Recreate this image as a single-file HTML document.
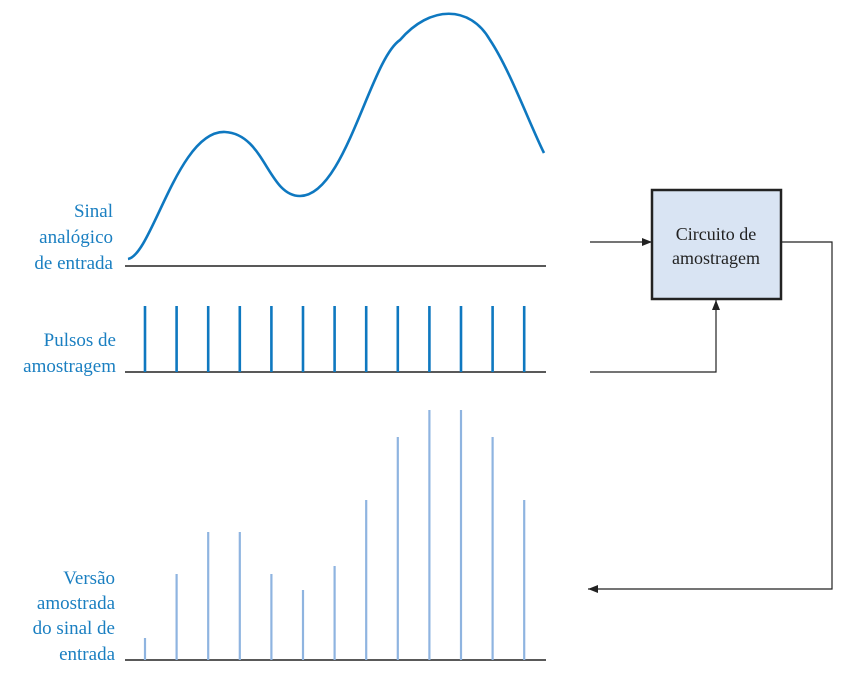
<!DOCTYPE html>
<html><head><meta charset="utf-8"><style>
html,body{margin:0;padding:0;background:#fff;}
svg{display:block;}
.lbl{font-family:"Liberation Serif",serif;font-size:19px;fill:#1a7fc1;}
.box{font-family:"Liberation Serif",serif;font-size:18px;fill:#222;}
</style></head><body>
<svg id="c" width="856" height="680" viewBox="0 0 856 680" xmlns="http://www.w3.org/2000/svg">
<defs><marker id="ar" markerWidth="10" markerHeight="8" refX="10" refY="4" orient="auto" markerUnits="userSpaceOnUse"><path d="M0,0 L10,4 L0,8 z" fill="#222"/></marker></defs>
<g>
<text class="lbl" x="113" y="217" text-anchor="end">Sinal</text>
<text class="lbl" x="113" y="243" text-anchor="end">analógico</text>
<text class="lbl" x="113" y="269" text-anchor="end">de entrada</text>
<line x1="125" y1="266" x2="546" y2="266" stroke="#222" stroke-width="1.5"/>
<path d="M128,259 C152,255 178,130 225,132 C265,134 268,196 300,196 C345,196 370,60 400,40 C430,5 470,5 490,40 C510,70 530,125 544,153" fill="none" stroke="#0e78c0" stroke-width="2.6"/>
</g>
<g id="pulses">
<text class="lbl" x="116" y="346" text-anchor="end">Pulsos de</text>
<text class="lbl" x="116" y="372" text-anchor="end">amostragem</text>
<line x1="125" y1="372" x2="546" y2="372" stroke="#222" stroke-width="1.5"/>
</g>
<g id="samples">
<text class="lbl" x="115" y="584" text-anchor="end">Versão</text>
<text class="lbl" x="115" y="609" text-anchor="end">amostrada</text>
<text class="lbl" x="115" y="634" text-anchor="end">do sinal de</text>
<text class="lbl" x="115" y="660" text-anchor="end">entrada</text>
<line x1="125" y1="660" x2="546" y2="660" stroke="#222" stroke-width="1.5"/>
</g>
<g>
<rect x="652" y="190" width="129" height="109" fill="#d9e4f3" stroke="#222" stroke-width="2.5"/>
<text class="box" x="716" y="240" text-anchor="middle">Circuito de</text>
<text class="box" x="716" y="264" text-anchor="middle">amostragem</text>
<line x1="590" y1="242" x2="652" y2="242" stroke="#222" stroke-width="1.2" marker-end="url(#ar)"/>
<polyline points="590,372 716,372 716,300" fill="none" stroke="#222" stroke-width="1.2" marker-end="url(#ar)"/>
<polyline points="781,242 832,242 832,589 588,589" fill="none" stroke="#222" stroke-width="1.2" marker-end="url(#ar)"/>
</g>
</svg>
<script>
const sampleIndex = [0,1,2,3,4,5,6,7,8,9,10,11,12];
const sampleValues = [22,86,128,128,86,70,94,160,223,250,250,223,160];
const pulseHeight = 66;
const svgNS = "http://www.w3.org/2000/svg";
function xPos(i){ return 145 + i*31.6; }
function ySample(v){ return 660 - v; }
const pg = document.getElementById('pulses');
const sg = document.getElementById('samples');
sampleIndex.forEach((i,k)=>{
  const p = document.createElementNS(svgNS,'line');
  p.setAttribute('x1',xPos(i)); p.setAttribute('x2',xPos(i));
  p.setAttribute('y1',372); p.setAttribute('y2',372-pulseHeight);
  p.setAttribute('stroke','#0e78c0'); p.setAttribute('stroke-width','2.6');
  
  
  pg.appendChild(p);
  const s = document.createElementNS(svgNS,'line');
  s.setAttribute('x1',xPos(i)); s.setAttribute('x2',xPos(i));
  s.setAttribute('y1',660); s.setAttribute('y2',ySample(sampleValues[k]));
  s.setAttribute('stroke','#8fb4e0'); s.setAttribute('stroke-width','2.2');
  
  
  sg.appendChild(s);
});
</script>
</body></html>
